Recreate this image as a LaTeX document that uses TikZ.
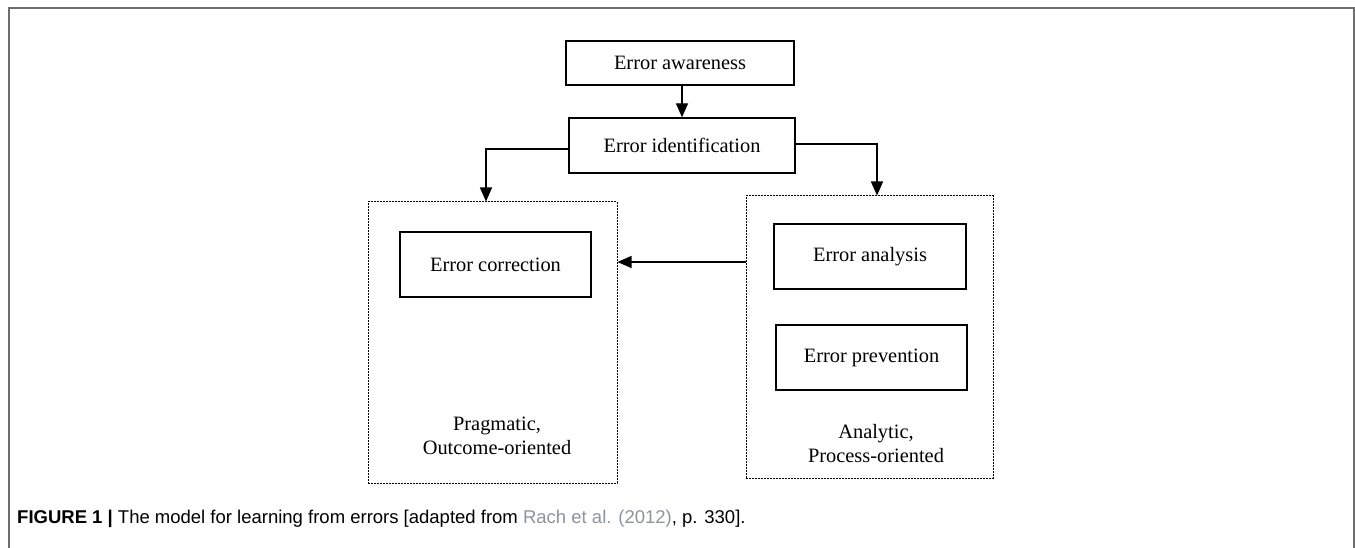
\documentclass[tikz,border=0pt]{standalone}
\usepackage{fontspec}
\setmainfont{Liberation Serif}
\newfontfamily\capfont{Liberation Sans}
\usetikzlibrary{arrows.meta}
\definecolor{framegray}{HTML}{6E6E6E}
\definecolor{citegray}{HTML}{8C949C}
\tikzset{
  box/.style={draw=black, line width=1.3pt, rectangle, inner sep=0pt, font=\fontsize{20.4}{24}\selectfont},
  group/.style={draw=black, line width=1pt, dash pattern=on 2pt off 1pt, rectangle, inner sep=0pt},
  lbl/.style={align=center, inner sep=0pt, font=\fontsize{20.4}{24}\selectfont},
  conn/.style={line width=1.3pt, -{Triangle[width=12pt,length=14pt]}},
}
\begin{document}
\begin{tikzpicture}[x=1pt,y=-1pt]
\useasboundingbox (0,0) rectangle (1355,548);
% outer frame (open at bottom)
\draw[framegray, line width=2pt] (9,548) -- (9,8) -- (1354,8) -- (1354,548);
% nodes
\node[box, minimum width=228pt, minimum height=44pt] (aw) at (680,63) {Error awareness};
\node[box, minimum width=226pt, minimum height=55pt] (id) at (682,145.5) {Error identification};
\node[group, minimum width=249pt, minimum height=281pt] (L) at (492.5,342.5) {};
\node[group, minimum width=247pt, minimum height=282pt] (R) at (869.5,337) {};
\node[box, minimum width=191pt, minimum height=65pt] (cor) at (495.5,264.5) {Error correction};
\node[box, minimum width=192pt, minimum height=65pt] (ana) at (870,256.5) {Error analysis};
\node[box, minimum width=191pt, minimum height=65pt] (pre) at (871.5,357.5) {Error prevention};
\node[lbl] (prag) at (497,435.5) {Pragmatic,\\Outcome-oriented};
\node[lbl] (anal) at (876,444) {Analytic,\\Process-oriented};
% connectors
\coordinate (lc) at (486,149);
\coordinate (rc) at (877,144);
\draw[conn] (aw.south -| 682,0) -- (id.north -| 682,0);
\draw[conn] (id.west |- lc) -- (lc) -- (lc |- L.north);
\draw[conn] (id.east |- rc) -- (rc) -- (rc |- R.north);
\draw[conn] (R.west |- 0,262) -- (L.east |- 0,262);
% caption
\node[anchor=base west, inner sep=0pt, font=\capfont\fontsize{18.5}{22}\selectfont] (cap) at (17,523)
  {\textbf{FIGURE 1 |} The model for learning from errors [adapted from \textcolor{citegray}{Rach et al. (2012)}, p. 330].};
\end{tikzpicture}
\end{document}
